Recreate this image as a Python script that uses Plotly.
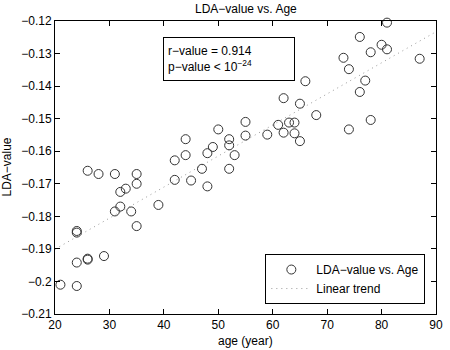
import numpy as np
import plotly.graph_objects as go

age = [21, 24, 24, 24, 24, 26, 26, 26, 28, 29,
       31, 31, 32, 32, 33, 34, 35, 35, 35, 39,
       42, 42, 44, 44, 45, 47, 48, 48, 49, 50,
       52, 52, 52, 53, 55, 55, 59, 61, 62, 62,
       63, 64, 64, 65, 65, 66, 68, 73, 74, 74,
       76, 76, 77, 78, 78, 80, 81, 81, 87]
lda = [-0.2010, -0.2014, -0.1942, -0.1845, -0.1850, -0.1933, -0.1930, -0.1660, -0.1670, -0.1922,
       -0.1670, -0.1785, -0.1725, -0.1770, -0.1715, -0.1785, -0.1670, -0.1700, -0.1830, -0.1765,
       -0.1628, -0.1688, -0.1612, -0.1563, -0.1690, -0.1654, -0.1606, -0.1708, -0.1587, -0.1533,
       -0.1563, -0.1582, -0.1654, -0.1612, -0.1510, -0.1552, -0.1549, -0.1519, -0.1437, -0.1543,
       -0.1512, -0.1512, -0.1545, -0.1454, -0.1569, -0.1385, -0.1489, -0.1313, -0.1348, -0.1533,
       -0.1249, -0.1418, -0.1383, -0.1296, -0.1504, -0.1273, -0.1287, -0.1205, -0.1316]

trend_age = [20, 90]
trend_val = [-0.1901, -0.1233]

x_ticks = [20, 30, 40, 50, 60, 70, 80, 90]
y_ticks = [-0.21, -0.20, -0.19, -0.18, -0.17, -0.16, -0.15, -0.14, -0.13, -0.12]
y_tick_labels = ["−0.21", "−0.2", "−0.19", "−0.18", "−0.17", "−0.16", "−0.15", "−0.14", "−0.13", "−0.12"]

FONT = "Liberation Sans, Arial, Helvetica, sans-serif"

fig = go.Figure()
fig.add_trace(go.Scatter(
    x=trend_age, y=trend_val, mode="lines", name="Linear trend", showlegend=True,
    line=dict(color="#999999", width=1, dash="1px,4px"), legendrank=2,
))
fig.add_trace(go.Scatter(
    x=age, y=lda, mode="markers", name="LDA−value vs. Age", cliponaxis=False,
    marker=dict(symbol="circle-open", size=9, color="#333333", line=dict(width=1, color="#333333")),
    legendrank=1,
))

axis_common = dict(
    showgrid=False, zeroline=False, showline=True, linecolor="black", linewidth=1,
    mirror="ticks", ticks="inside", ticklen=5, tickcolor="black",
    tickfont=dict(family=FONT, size=12, color="black"),
)
fig.update_xaxes(range=[20, 90], tickvals=x_ticks, **axis_common)
fig.update_yaxes(range=[-0.21, -0.12], tickvals=y_ticks, ticktext=y_tick_labels, **axis_common)

fig.update_layout(
    width=450, height=350,
    margin=dict(l=55, r=7, t=21, b=36),
    paper_bgcolor="white", plot_bgcolor="white",
    font=dict(family=FONT, size=12, color="black"),
    showlegend=True,
    legend=dict(
        x=0.972, xanchor="right", y=0.034, yanchor="bottom",
        bordercolor="black", borderwidth=1, bgcolor="white",
        font=dict(family=FONT, size=12, color="black"),
        tracegroupgap=0, itemwidth=40,
    ),
    annotations=[
        dict(text="LDA−value vs. Age", x=0.5, y=1, xref="paper", yref="paper",
             xanchor="center", yanchor="bottom", yshift=3, showarrow=False,
             font=dict(family=FONT, size=12)),
        dict(text="age (year)", x=0.5, y=0, xref="paper", yref="paper",
             xanchor="center", yanchor="top", yshift=-18, showarrow=False,
             font=dict(family=FONT, size=12)),
        dict(text="LDA−value", x=0, y=0.5, xref="paper", yref="paper",
             xanchor="right", yanchor="middle", xshift=-40, textangle=-90, showarrow=False,
             font=dict(family=FONT, size=12)),
        dict(text="r−value = 0.914<br>p−value < 10<sup>−24</sup>",
             x=0.2835, y=0.945, xref="paper", yref="paper",
             xanchor="left", yanchor="top", align="left", showarrow=False,
             bordercolor="black", borderwidth=1, borderpad=4, bgcolor="white",
             width=122, height=34,
             font=dict(family=FONT, size=12)),
    ],
)

fig.write_html("out.html")
